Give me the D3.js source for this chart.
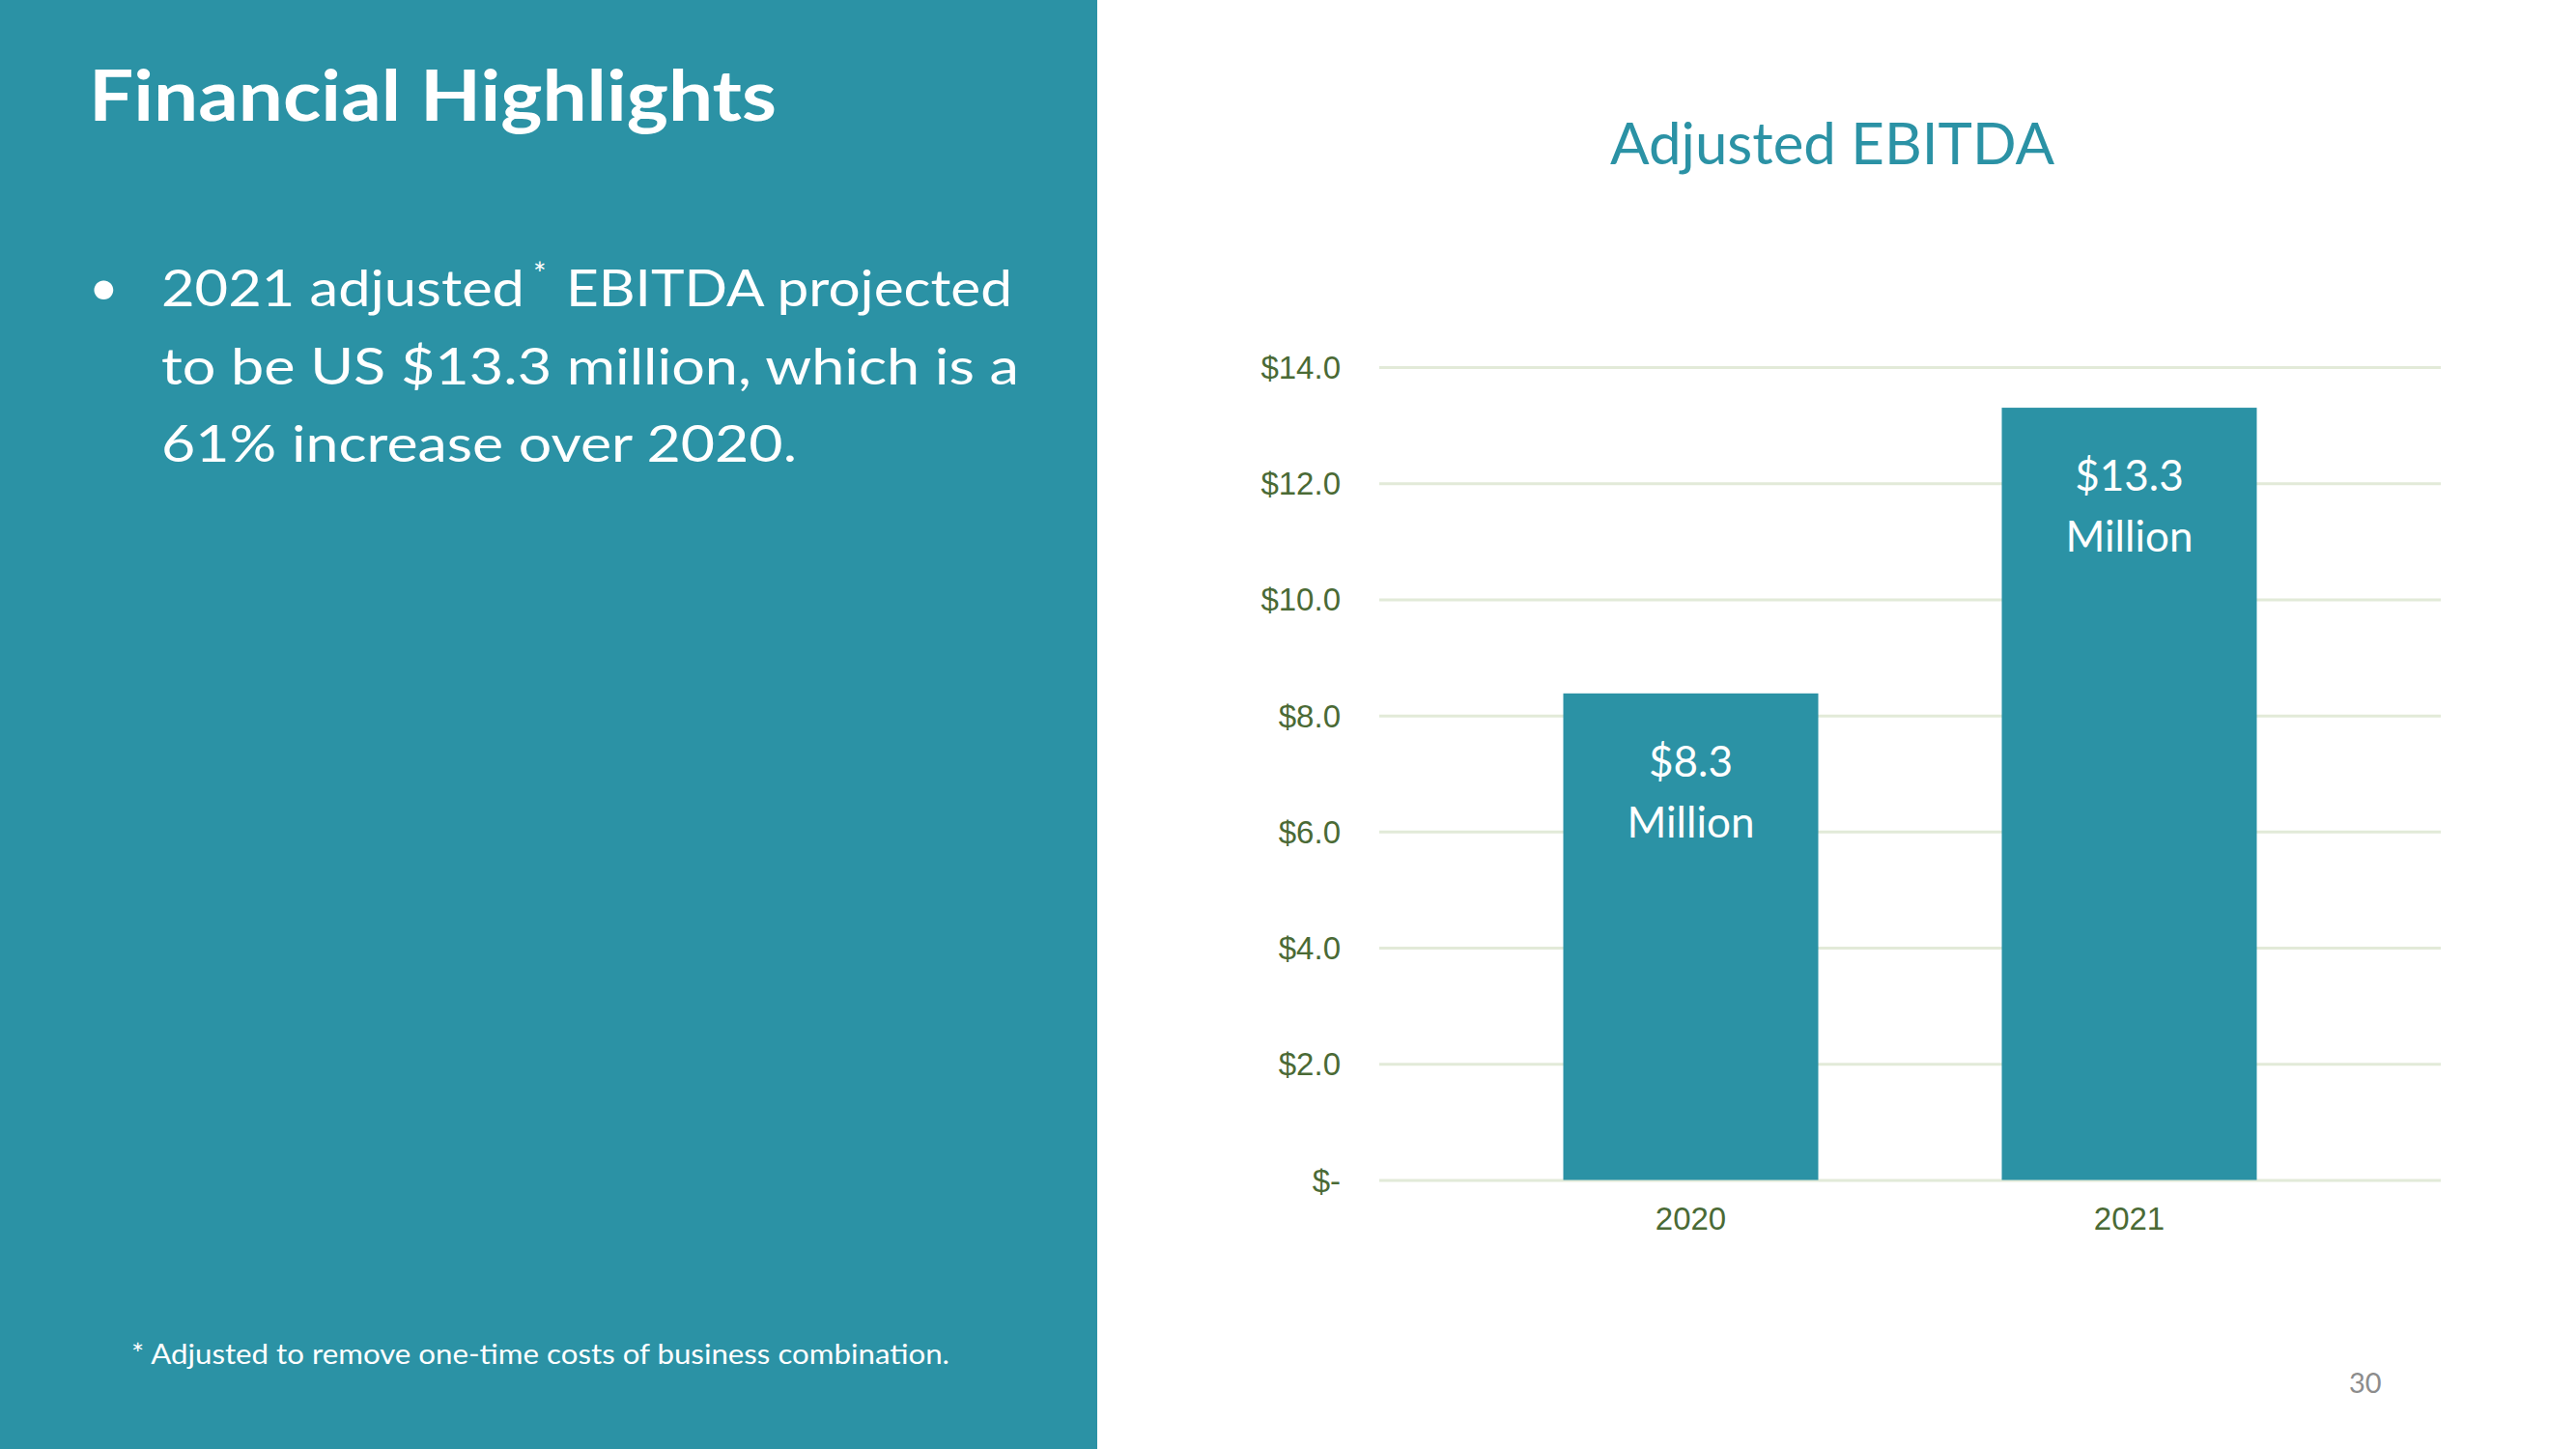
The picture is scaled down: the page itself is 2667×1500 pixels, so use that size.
<!DOCTYPE html>
<html><head><meta charset="utf-8">
<script src="https://cdn.jsdelivr.net/npm/d3@7"></script>
<style>
html,body{margin:0;padding:0;background:#fff;overflow:hidden}
svg{display:block}
</style></head>
<body>
<script>
// ---- data ----
const categories = ["2020", "2021"];
const values = [8.38, 13.3];
const valueLabels = ["$8.3", "$13.3"];
const valueUnit = "Million";
const yTicks = [0, 2, 4, 6, 8, 10, 12, 14];
const yTickLabels = ["$-", "$2.0", "$4.0", "$6.0", "$8.0", "$10.0", "$12.0", "$14.0"];
const chartTitle = "Adjusted EBITDA";
const pageTitle = "Financial Highlights";
const bulletLine1a = "2021 adjusted";
const bulletLine1b = "EBITDA projected";
const bulletLine2 = "to be US $13.3 million, which is a";
const bulletLine3 = "61% increase over 2020.";
const footnote = "* Adjusted to remove one-time costs of business combination.";
const pageNumber = "30";

const W = 2667, H = 1500;
const teal = "#2b92a5";
const svg = d3.select("body").append("svg").attr("width", W).attr("height", H);

// left panel
svg.append("rect").attr("x", 0).attr("y", 0).attr("width", 1136).attr("height", H).attr("fill", teal);
svg.append("text").attr("x", 92).attr("y", 125).attr("fill", "#fff")
  .attr("textLength", 712).attr("lengthAdjust", "spacingAndGlyphs")
  .style("font-family", "Lato").style("font-weight", 700).style("font-size", "72px").text(pageTitle);

const bullet = svg.append("g").style("font-family", "Lato").style("font-size", "53px").attr("fill", "#fff");
bullet.append("text").attr("x", 92).attr("y", 316).text("•");
const addLine = (txt, x0, yb, len) => bullet.append("text").attr("x", x0).attr("y", yb)
  .attr("textLength", len).attr("lengthAdjust", "spacingAndGlyphs").text(txt);
addLine(bulletLine1a, 167, 317, 376);
bullet.append("text").attr("x", 552).attr("y", 295).style("font-size", "32px").text("*");
addLine(bulletLine1b, 586, 317, 462);
addLine(bulletLine2, 167, 398, 888);
addLine(bulletLine3, 167, 478, 658);

svg.append("text").attr("x", 136).attr("y", 1412).attr("fill", "#fff")
  .attr("textLength", 847).attr("lengthAdjust", "spacingAndGlyphs")
  .style("font-family", "Lato").style("font-size", "29px").text(footnote);

// page number
svg.append("text").attr("x", 2432).attr("y", 1442).attr("fill", "#8c8c8c")
  .style("font-family", "Lato").style("font-size", "29px").text(pageNumber);

// chart title
svg.append("text").attr("x", 1897).attr("y", 170).attr("text-anchor", "middle").attr("fill", teal)
  .style("font-family", "Lato").style("font-size", "60px").text(chartTitle);

// scales
const x = d3.scaleBand().domain(categories).range([1428, 2527]).paddingInner(0.4185).paddingOuter(0.4196);
const y = d3.scaleLinear().domain([0, 14]).range([1221.5, 380]);

// grid
const yAxis = d3.axisLeft(y).tickValues(yTicks).tickSize(-(2527 - 1428))
  .tickFormat((d, i) => yTickLabels[i]).tickPadding(40);
const gy = svg.append("g").attr("transform", "translate(1428,0)").call(yAxis);
gy.select(".domain").remove();
gy.selectAll(".tick line").attr("stroke", "#e2ead8").attr("stroke-width", 3);
gy.selectAll(".tick text").attr("fill", "#4a6a35").style("font-family", "'Liberation Sans', Arial")
  .style("font-size", "33px").attr("dy", "0.35em");

// bars
svg.append("g").selectAll("rect").data(categories).join("rect")
  .attr("x", d => x(d)).attr("width", x.bandwidth())
  .attr("y", (d, i) => y(values[i])).attr("height", (d, i) => y(0) - y(values[i]))
  .attr("fill", teal);

// bar labels
const lbl = svg.append("g").style("font-family", "Lato").style("font-size", "44px").attr("fill", "#fff").attr("text-anchor", "middle");
categories.forEach((c, i) => {
  const cx = x(c) + x.bandwidth() / 2;
  const top = y(values[i]);
  lbl.append("text").attr("x", cx).attr("y", top + 86).text(valueLabels[i]);
  lbl.append("text").attr("x", cx).attr("y", top + 149).text(valueUnit);
});

// x axis
const xAxis = d3.axisBottom(x).tickSize(0).tickPadding(0);
const gx = svg.append("g").attr("transform", "translate(0,1221.5)").call(xAxis);
gx.select(".domain").remove();
gx.selectAll(".tick text").attr("fill", "#4a6a35").style("font-family", "'Liberation Sans', Arial")
  .style("font-size", "33px").attr("dy", 0).attr("y", 51);
</script>
</body></html>
